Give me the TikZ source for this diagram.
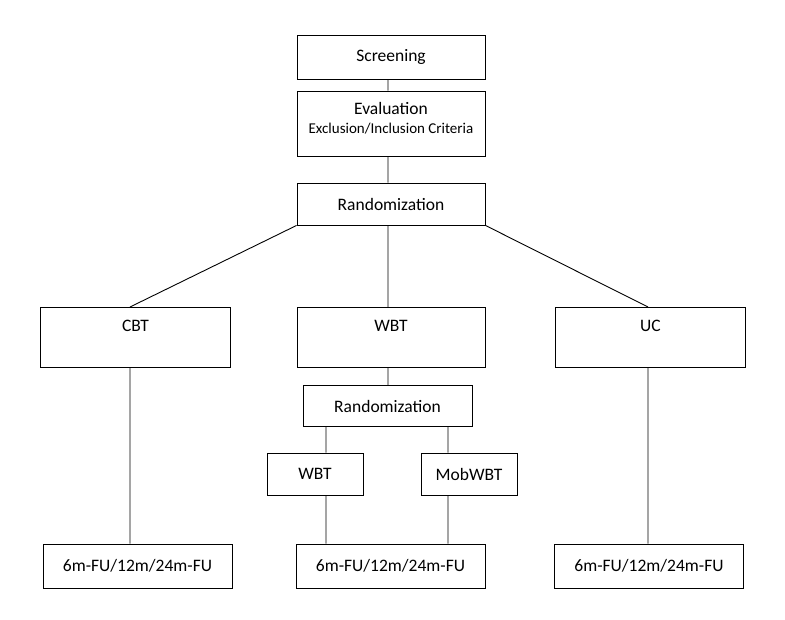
\documentclass[tikz,border=0pt]{standalone}
\usepackage{fontspec}
\setmainfont{Carlito}

\begin{document}
\begin{tikzpicture}[x=1pt,y=-1pt,line width=0.9pt,
  box/.style={draw,minimum height=42pt,inner sep=2pt,font=\fontsize{17.5}{21}\selectfont},
  armbox/.style={box,minimum width=190pt,anchor=north,inner sep=4pt,text height=20.5pt,text depth=31.5pt},
  fubox/.style={box,minimum width=189pt,minimum height=44pt}]

\useasboundingbox (0,0) rectangle (785,620);

\node [box, minimum width=188pt, minimum height=44pt] (screen) at (391,57) {Screening};
\node [box, minimum width=188pt, minimum height=65pt] (eval) at (391,123.5)
      {\raisebox{4pt}[\height][\depth]{\begin{tabular}{@{}c@{}}Evaluation\\[-2pt]
       {\fontsize{15}{18}\selectfont Exclusion/Inclusion Criteria}\end{tabular}}};
\node [box, minimum width=188pt] (rand) at (391,204) {Randomization};

\node [armbox] (cbt) at (135.5,307) {CBT};
\node [armbox, minimum width=188pt] (wbt) at (391,307) {WBT};
\node [armbox] (uc) at (650.5,307) {UC};

\node [box, minimum width=169pt, minimum height=41pt] (rand2) at (387.5,406) {Randomization};
\node [box, minimum width=96pt] (wbt2) at (315,474) {WBT};
\node [box, minimum width=96pt] (mob) at (469,474) {MobWBT};

\node [fubox] (fu1) at (137.5,566) {6m-FU/12m/24m-FU};
\node [fubox] (fu2) at (390.5,566) {6m-FU/12m/24m-FU};
\node [fubox] (fu3) at (649,566) {6m-FU/12m/24m-FU};

\coordinate (cbtx) at (130,0);
\coordinate (midx) at (388,0);
\coordinate (leftx) at (326,0);
\coordinate (rightx) at (448,0);
\coordinate (ucx) at (648,0);

\draw (screen.south -| midx) -- (eval.north -| midx)
      (eval.south -| midx) -- (rand.north -| midx)
      (rand.south -| midx) -- (wbt.north -| midx)
      (rand.south west) -- (cbt.north -| cbtx)
      (rand.south east) -- (uc.north -| ucx)
      (wbt.south -| midx) -- (rand2.north -| midx)
      (rand2.south -| leftx) -- (wbt2.north -| leftx)
      (rand2.south -| rightx) -- (mob.north -| rightx)
      (wbt2.south -| leftx) -- (fu2.north -| leftx)
      (mob.south -| rightx) -- (fu2.north -| rightx)
      (cbt.south -| cbtx) -- (fu1.north -| cbtx)
      (uc.south -| ucx) -- (fu3.north -| ucx);

\end{tikzpicture}
\end{document}
